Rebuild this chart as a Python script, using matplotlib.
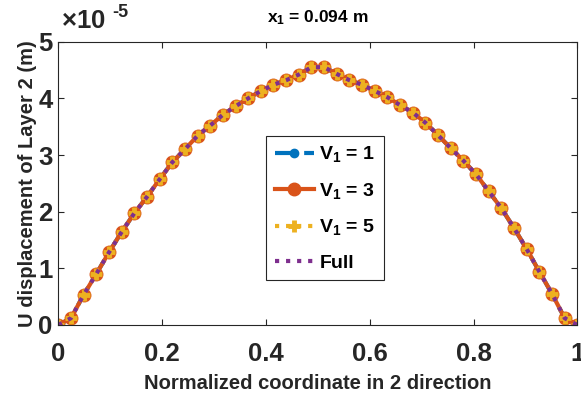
import numpy as np
import matplotlib.pyplot as plt

plt.rcParams['font.family'] = ['Liberation Sans', 'DejaVu Sans']
plt.rcParams['font.weight'] = 'bold'
plt.rcParams['mathtext.fontset'] = 'custom'
plt.rcParams['mathtext.rm'] = 'Liberation Sans:bold'
plt.rcParams['mathtext.bf'] = 'Liberation Sans:bold'
plt.rcParams['mathtext.default'] = 'bf'

# normalized coordinate (42 nodes) and U displacement in units of 1e-5 m
coord = np.linspace(0, 1, 42)
u_disp = [0.00, 0.12, 0.53, 0.90, 1.28, 1.64, 1.97, 2.26, 2.57, 2.87,
          3.10, 3.34, 3.52, 3.71, 3.86, 4.00, 4.13, 4.24, 4.32, 4.42,
          4.55, 4.55, 4.43, 4.32, 4.24, 4.13, 4.02, 3.88, 3.75, 3.57,
          3.35, 3.12, 2.90, 2.66, 2.36, 2.06, 1.71, 1.34, 0.94, 0.55,
          0.12, 0.00]
u_v1 = u_disp
u_v3 = u_disp
u_v5 = u_disp
u_full = u_disp

labels = ['V$_1$ = 1', 'V$_1$ = 3', 'V$_1$ = 5', 'Full']
axcol = '#262626'

fig = plt.figure(figsize=(5.81, 3.97), dpi=100)
ax = fig.add_axes([0.1003, 0.1814, 0.8934, 0.7136])

ax.plot(coord, u_v1, '--o', color='#0072BD', lw=3, ms=6, mfc='#0072BD',
        dashes=(5, 2), label=labels[0])
ax.plot(coord, u_v3, '-o', color='#D95319', lw=3, ms=9, mfc='#D95319',
        label=labels[1])
ax.plot(coord, u_v5, ':+', color='#EDB120', lw=3, ms=8, mew=3.5,
        label=labels[2])
ax.plot(coord, u_full, ':', color='#7E2F8E', lw=3, label=labels[3])

ax.set_xlim(0, 1)
ax.set_ylim(0, 5)
ax.set_xticks([0, 0.2, 0.4, 0.6, 0.8, 1])
ax.set_xticklabels(['0', '0.2', '0.4', '0.6', '0.8', '1'])
ax.set_yticks([0, 1, 2, 3, 4, 5])
ax.tick_params(direction='in', top=True, right=True, labelsize=18.5,
               colors=axcol, length=4, width=0.8)
ax.tick_params(axis='x', pad=12)
ax.tick_params(axis='y', pad=4)
for s in ax.spines.values():
    s.set_color(axcol)
    s.set_linewidth(0.8)

ax.set_xlabel('Normalized coordinate in 2 direction', fontsize=14.5,
              fontweight='bold', color=axcol, labelpad=6)
ax.set_ylabel('U displacement of Layer 2 (m)', fontsize=14.5,
              fontweight='bold', color=axcol, labelpad=1)
ax.set_title('x$_1$ = 0.094 m', fontsize=12.5, fontweight='bold',
             color='black', pad=14)

# exponent label
ax.text(0.006, 1.049, r'$\times$10', transform=ax.transAxes, fontsize=18.5,
        color=axcol, ha='left', va='baseline')
ax.text(0.104, 1.074, '-5', transform=ax.transAxes, fontsize=13,
        color=axcol, ha='left', va='bottom')

leg = ax.legend(loc='center', bbox_to_anchor=(0.514, 0.413), fontsize=14,
                handlelength=2.0, handletextpad=0.3, labelspacing=0.85,
                borderpad=0.45, fancybox=False, framealpha=1,
                edgecolor=axcol)
leg.get_frame().set_linewidth(0.8)

fig.savefig('out.png', dpi=100)
